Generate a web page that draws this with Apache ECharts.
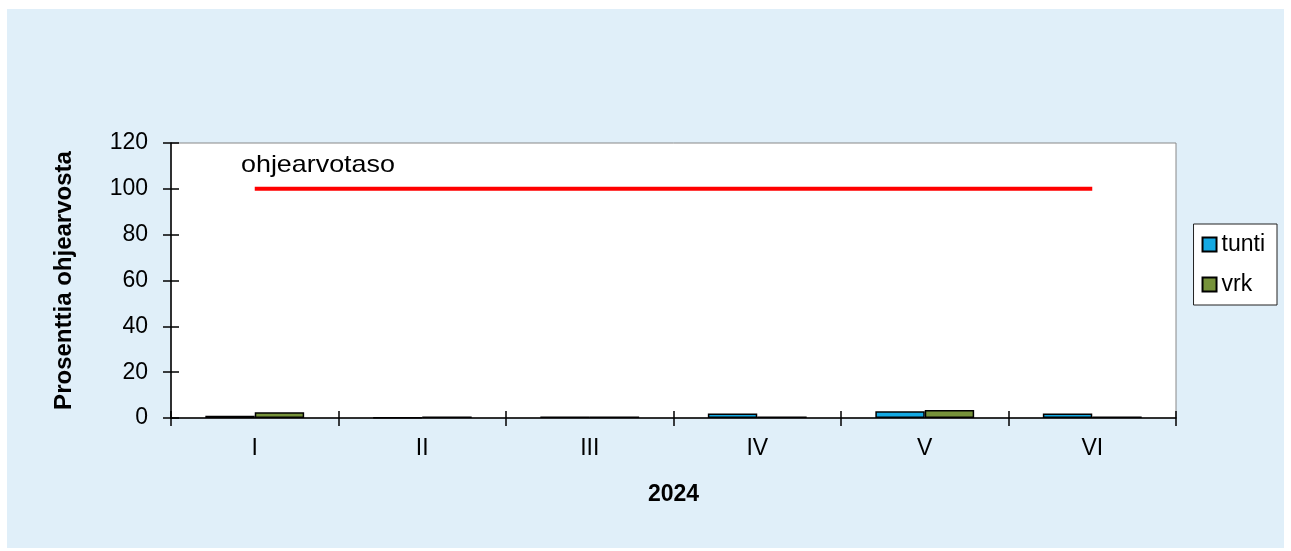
<!DOCTYPE html>
<html><head><meta charset="utf-8">
<script src="https://cdn.jsdelivr.net/npm/echarts@6/dist/echarts.min.js"></script>
<style>
html,body{margin:0;padding:0;background:#fff;}
#wrap{position:absolute;left:7px;top:9px;width:1277px;height:539px;background:#e0eff9;}
#c{position:absolute;left:0;top:0;width:1291px;height:551px;}
</style></head>
<body><div id="wrap"></div><div id="c"></div>
<script>
var categories = ['I','II','III','IV','V','VI'];
var tunti = [1, 0.3, 0.7, 2, 3, 2];
var vrk = [2.5, 0.7, 0.7, 0.7, 3.5, 0.7];
var ohjearvo = [100, 100, 100, 100, 100, 100];
var yTicks = {min: 0, max: 120, interval: 20};

var chart = echarts.init(document.getElementById('c'), null, {renderer: 'canvas'});
var font = 'Liberation Sans, Arial, sans-serif';
chart.setOption({
  animation: false,
  textStyle: {fontFamily: font},
  grid: {left: 171, top: 143, width: 1005, height: 275, show: true, backgroundColor: '#fff', borderColor: '#888', borderWidth: 1},
  legend: {
    right: 14, top: 224, orient: 'vertical', itemWidth: 14, itemHeight: 14, itemGap: 17,
    backgroundColor: '#fff', borderColor: '#222', borderWidth: 1, padding: [9, 12, 9, 8],
    textStyle: {fontSize: 23, lineHeight: 23, color: '#000', fontFamily: font},
    data: [{name: 'tunti', icon: 'rect'}, {name: 'vrk', icon: 'rect'}]
  },
  xAxis: [{
    type: 'category', data: categories, position: 'bottom',
    name: '2024', nameLocation: 'middle', nameGap: 65,
    nameTextStyle: {fontSize: 23, fontWeight: 'bold', color: '#000', fontFamily: font},
    axisLine: {lineStyle: {color: '#000', width: 1.5}},
    axisTick: {show: true, length: 8, lineStyle: {color: '#000', width: 1.5}},
    axisLabel: {fontSize: 23, color: '#000', margin: 19, fontFamily: font}
  }, {
    type: 'category', data: categories, position: 'bottom',
    axisLine: {show: false}, axisLabel: {show: false},
    axisTick: {show: true, inside: true, length: 7, lineStyle: {color: '#000', width: 1.5}}
  }],
  yAxis: [{
    type: 'value', min: yTicks.min, max: yTicks.max, interval: yTicks.interval,
    name: 'Prosenttia ohjearvosta', nameLocation: 'middle', nameGap: 95,
    nameTextStyle: {fontSize: 24, fontWeight: 'bold', color: '#000', fontFamily: font},
    axisLine: {show: true, lineStyle: {color: '#000', width: 1.5}},
    axisTick: {show: true, length: 8, lineStyle: {color: '#000', width: 1.5}},
    axisLabel: {fontSize: 23, color: '#000', margin: 23, fontFamily: font},
    splitLine: {show: false}
  }, {
    type: 'value', min: yTicks.min, max: yTicks.max, interval: yTicks.interval, position: 'left',
    axisLine: {show: false}, axisLabel: {show: false}, splitLine: {show: false},
    axisTick: {show: true, inside: true, length: 8, lineStyle: {color: '#000', width: 1.5}}
  }],
  series: [{
    name: 'tunti', type: 'bar', data: tunti, barGap: '0%', barCategoryGap: '41%',
    itemStyle: {color: '#14a9e3', borderColor: '#000', borderWidth: 1.5}
  }, {
    name: 'vrk', type: 'bar', data: vrk, barGap: '0%', barCategoryGap: '41%',
    itemStyle: {color: '#76923a', borderColor: '#000', borderWidth: 1.5}
  }, {
    name: 'ohjearvotaso', type: 'line', data: ohjearvo, symbol: 'none',
    lineStyle: {color: '#ff0000', width: 4}, z: 5
  }],
  graphic: [{
    type: 'text', x: 241, y: 153, scaleX: 1.12,
    style: {text: 'ohjearvotaso', fontSize: 24, fill: '#000', fontFamily: font}
  }]
});
</script></body></html>
